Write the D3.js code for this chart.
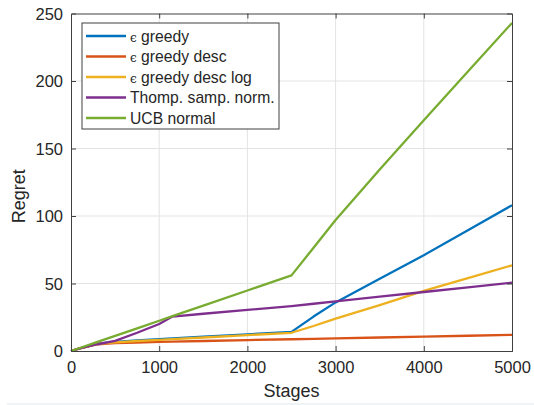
<!DOCTYPE html>
<html>
<head>
<meta charset="utf-8">
<script src="https://cdn.jsdelivr.net/npm/d3@7"></script>
<style>
  html, body { margin: 0; padding: 0; background: #fff; }
  svg { display: block; }
  text { font-family: "Liberation Sans", Arial, Helvetica, sans-serif; fill: #262626; }
</style>
</head>
<body>
<svg id="chart" width="534" height="405"></svg>
<script>
// Cumulative regret of five bandit strategies over 5000 stages
const stages = [0, 100, 300, 500, 750, 1000, 1150, 1500, 2000, 2500, 2750, 3000, 3500, 4000, 4500, 5000];

const epsGreedy        = [0, 2, 5.5, 6.8, 7.8, 8.8, 9.4, 10.6, 12.3, 14.2, 25.5, 36, 53.5, 71, 89.5, 108];
const epsGreedyDesc    = [0, 2, 5, 5.8, 6.3, 6.7, 6.9, 7.4, 8.1, 8.7, 9, 9.3, 10, 10.7, 11.3, 12];
const epsGreedyDescLog = [0, 2, 5.3, 6.4, 7.4, 8.3, 8.8, 10, 11.8, 13.5, 18.5, 24, 34, 44.5, 54, 63.5];
const thompson         = [0, 2, 5, 7.5, 13.5, 20, 25.5, 27.6, 30.4, 33.3, 35, 36.8, 40.2, 43.7, 47.1, 50.6];
const ucbNormal        = [0, 2.2, 6.7, 11.2, 16.8, 22.4, 25.8, 33.6, 44.8, 56, 76.5, 97, 134.5, 171, 207, 243];

const seriesNames  = ["\u03F5 greedy", "\u03F5 greedy desc", "\u03F5 greedy desc log", "Thomp. samp. norm.", "UCB normal"];
const seriesValues = [epsGreedy, epsGreedyDesc, epsGreedyDescLog, thompson, ucbNormal];
const seriesColors = ["#0072BD", "#D95319", "#EDB120", "#7E2F8E", "#77AC30"];

const xTicks = [0, 1000, 2000, 3000, 4000, 5000];
const yTicks = [0, 50, 100, 150, 200, 250];

const svg = d3.select("#chart");
const plotL = 71, plotR = 512, plotT = 13.5, plotB = 351;

const x = d3.scaleLinear().domain([0, 5000]).range([plotL, plotR]);
const y = d3.scaleLinear().domain([0, 250]).range([plotB, plotT]);

// faint strip along the bottom edge of the figure
svg.append("rect").attr("x", 7).attr("y", 403).attr("width", 527).attr("height", 2).attr("fill", "#eef3f8");

// grid
const grid = svg.append("g").attr("stroke", "#e3e3e3").attr("stroke-width", 1);
xTicks.slice(1, -1).forEach(t => {
  grid.append("line").attr("x1", x(t)).attr("x2", x(t)).attr("y1", plotT).attr("y2", plotB);
});
yTicks.slice(1, -1).forEach(t => {
  grid.append("line").attr("x1", plotL).attr("x2", plotR).attr("y1", y(t)).attr("y2", y(t));
});

// series
const line = d3.line().x((d, i) => x(stages[i])).y(d => y(d));
seriesValues.forEach((vals, k) => {
  svg.append("path")
    .datum(vals)
    .attr("d", line)
    .attr("fill", "none")
    .attr("stroke", seriesColors[k])
    .attr("stroke-width", 2.3)
    .attr("stroke-linejoin", "round");
});

// axes (ticks pointing inward, box on)
const tickLen = 5;
const axisColor = "#404040";
const xAxis = svg.append("g").attr("transform", `translate(0,${plotB})`)
  .call(d3.axisBottom(x).tickValues(xTicks).tickSize(-tickLen).tickPadding(10).tickFormat(d3.format("d")));
const xAxisTop = svg.append("g").attr("transform", `translate(0,${plotT})`)
  .call(d3.axisTop(x).tickValues(xTicks).tickSize(-tickLen).tickFormat(""));
const yAxis = svg.append("g").attr("transform", `translate(${plotL},0)`)
  .call(d3.axisLeft(y).tickValues(yTicks).tickSize(-tickLen).tickPadding(8).tickFormat(d3.format("d")));
const yAxisRight = svg.append("g").attr("transform", `translate(${plotR},0)`)
  .call(d3.axisRight(y).tickValues(yTicks).tickSize(-tickLen).tickFormat(""));

[xAxis, xAxisTop, yAxis, yAxisRight].forEach(g => {
  g.select(".domain").attr("stroke", axisColor).attr("stroke-width", 1);
  g.selectAll(".tick line").attr("stroke", axisColor);
  g.selectAll(".tick text")
    .attr("fill", "#262626")
    .style("font-size", "16.5px")
    .style("font-family", "'Liberation Sans', Arial, sans-serif");
});
xAxis.selectAll(".tick line").filter(d => d === 0 || d === 5000).remove();
xAxisTop.selectAll(".tick line").filter(d => d === 0 || d === 5000).remove();
yAxis.selectAll(".tick line").filter(d => d === 0 || d === 250).remove();
yAxisRight.selectAll(".tick line").filter(d => d === 0 || d === 250).remove();
yAxis.selectAll(".tick text").attr("dy", "0.36em");

// axis labels
svg.append("text")
  .attr("x", (plotL + plotR) / 2).attr("y", 397)
  .attr("text-anchor", "middle")
  .style("font-size", "18px")
  .text("Stages");
svg.append("text")
  .attr("transform", `translate(25,${(plotT + plotB) / 2 + 14}) rotate(-90)`)
  .attr("text-anchor", "middle")
  .style("font-size", "18px")
  .text("Regret");

// legend
const lg = svg.append("g");
const lgX = 82, lgY = 23, lgW = 197, lgH = 106;
lg.append("rect")
  .attr("x", lgX).attr("y", lgY).attr("width", lgW).attr("height", lgH)
  .attr("fill", "#fff").attr("stroke", "#404040").attr("stroke-width", 1);
seriesNames.forEach((name, k) => {
  const cy = 36 + k * 20.5;
  lg.append("line")
    .attr("x1", 86).attr("x2", 126).attr("y1", cy).attr("y2", cy)
    .attr("stroke", seriesColors[k]).attr("stroke-width", 2.3);
  const t = lg.append("text")
    .attr("x", 130).attr("y", cy + 5.5)
    .style("font-size", "15.7px");
  if (name.startsWith("\u03F5")) {
    t.append("tspan").style("font-size", "12px").style("font-family", "'DejaVu Serif', serif").text("\u03F5");
    t.append("tspan").text(name.slice(1));
  } else {
    t.text(name);
  }
});
</script>
</body>
</html>
